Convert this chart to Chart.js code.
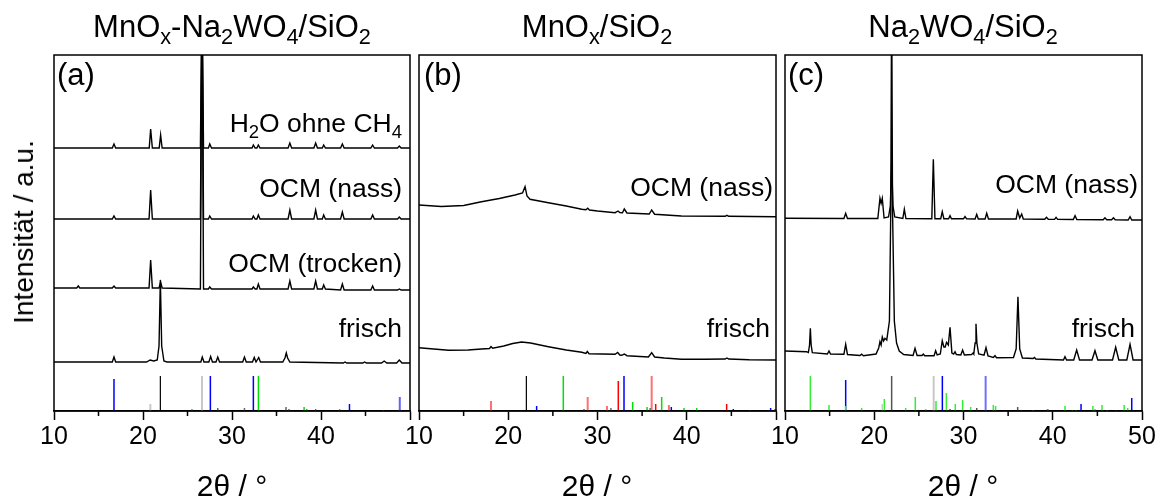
<!DOCTYPE html>
<html><head><meta charset="utf-8">
<script src="https://cdn.jsdelivr.net/npm/chart.js@4/dist/chart.umd.min.js"></script>
<style>
html,body{margin:0;padding:0;background:#fff;}
#wrap{position:relative;width:1160px;height:501px;overflow:hidden;font-family:"Liberation Sans",Arial,sans-serif;color:#000;}
canvas{position:absolute;top:0;}
.t{position:absolute;white-space:nowrap;line-height:1;}
.t sub{font-size:0.7em;vertical-align:-0.32em;line-height:0;}
.c{transform:translateX(-50%);}
</style></head>
<body>
<div id="wrap">
<canvas id="ca"></canvas>
<canvas id="cb"></canvas>
<canvas id="cc"></canvas>

<div class="t c" style="left:232px;top:11px;font-size:31px;">MnO<sub>x</sub>-Na<sub>2</sub>WO<sub>4</sub>/SiO<sub>2</sub></div>
<div class="t c" style="left:597px;top:11px;font-size:31px;">MnO<sub>x</sub>/SiO<sub>2</sub></div>
<div class="t c" style="left:963px;top:11px;font-size:31px;">Na<sub>2</sub>WO<sub>4</sub>/SiO<sub>2</sub></div>

<div class="t" style="left:57px;top:59px;font-size:31px;">(a)</div>
<div class="t" style="left:424px;top:59px;font-size:31px;">(b)</div>
<div class="t" style="left:788px;top:59px;font-size:31px;">(c)</div>

<div class="t" style="right:758px;top:110px;font-size:26.5px;">H<sub>2</sub>O ohne CH<sub>4</sub></div>
<div class="t" style="right:758px;top:175px;font-size:26.5px;">OCM (nass)</div>
<div class="t" style="right:758px;top:250px;font-size:26.5px;">OCM (trocken)</div>
<div class="t" style="right:758px;top:315px;font-size:26.5px;">frisch</div>

<div class="t" style="right:387px;top:174px;font-size:26.5px;">OCM (nass)</div>
<div class="t" style="right:390px;top:315px;font-size:26.5px;">frisch</div>

<div class="t" style="right:22px;top:171px;font-size:26.5px;">OCM (nass)</div>
<div class="t" style="right:25px;top:315px;font-size:26.5px;">frisch</div>

<div class="t c" style="left:232px;top:471px;font-size:30px;">2θ / °</div>
<div class="t c" style="left:597px;top:471px;font-size:30px;">2θ / °</div>
<div class="t c" style="left:963px;top:471px;font-size:30px;">2θ / °</div>

<div class="t" style="left:24px;top:232px;font-size:28px;transform:translate(-50%,-50%) rotate(-90deg);">Intensität / a.u.</div>
</div>

<script>
// ---------- axis ----------
const xMajorTicks = [10, 20, 30, 40, 50];
const xMinorTicks = [15, 25, 35, 45];

// ---------- panel (a): MnOx-Na2WO4/SiO2, [2theta, intensity a.u.] ----------
const aH2O = [[10,263],[16.55,263],[16.74,267],[16.93,263],[20.7,263],[20.86,282],[21.05,263],[21.82,263],[21.98,276],[22.15,263],[26.45,263],[26.63,420],[26.8,263],[27.35,263],[27.5,267],[27.7,263],[32.25,263],[32.4,266],[32.6,263],[32.8,263],[32.96,266],[33.15,263],[36.3,263],[36.5,268],[36.7,263],[39.2,263],[39.4,268],[39.6,263],[40.15,263],[40.3,266],[40.5,263],[42.2,263],[42.4,267],[42.6,263],[45.6,263],[45.8,266],[46.0,263],[48.6,263],[48.8,265],[49.0,263],[50,263]];
const aNass = [[10,192],[16.55,192],[16.74,195],[16.93,192],[20.68,192],[20.86,221],[21.05,192],[26.45,192],[26.63,420],[26.8,192],[27.35,192],[27.5,195],[27.7,192],[32.25,192],[32.4,195],[32.6,192],[32.8,192],[32.96,196],[33.15,192],[36.3,192],[36.5,201],[36.7,192],[39.2,192],[39.4,201],[39.6,192],[40.15,192],[40.3,196],[40.5,192],[42.2,192],[42.4,199],[42.6,192],[45.6,192],[45.8,196],[46.0,192],[48.6,192],[48.8,194],[49.0,192],[50,192]];
const aTrocken = [[10,123],[12.55,123],[12.73,125],[12.9,123],[16.55,123],[16.74,125],[16.93,123],[20.68,123],[20.86,151],[21.05,123],[21.8,123],[21.98,129],[22.15,123],[26.45,122],[26.63,420],[26.8,122],[27.35,122],[27.5,124],[27.7,122],[32.25,122],[32.4,124],[32.6,122],[32.8,122],[32.96,127],[33.15,122],[36.3,122],[36.5,130],[36.7,122],[39.2,122],[39.4,130],[39.6,122],[40.15,122],[40.3,126],[40.5,122],[42.2,121],[42.4,127],[42.6,121],[45.6,121],[45.8,125],[46.0,121],[48.6,121],[48.8,122],[49.0,121],[50,121]];
const aFrisch = [[10,49],[16.55,49],[16.74,54],[16.93,49],[20.4,49],[20.8,51],[21.2,50],[21.6,51],[21.8,65],[21.95,131],[22.1,65],[22.35,50],[22.7,49],[26.5,49],[26.66,54],[26.85,49],[27.4,49],[27.6,54.5],[27.8,49],[28.2,49],[28.4,54],[28.6,49],[31.2,49],[31.4,54],[31.6,49],[32.3,49],[32.5,53.5],[32.7,49],[32.8,49],[33.0,53.5],[33.2,49],[35.7,49],[35.95,53],[36.1,58],[36.25,53],[36.5,49],[42.5,48],[42.7,49],[42.9,48],[44.7,48],[44.9,49],[45.1,48],[46.8,48],[47.1,50],[47.4,48],[48.5,48],[48.8,51],[49.1,48],[50,48]];
// reference sticks (a): [2theta, relative height]
const aStickBlue = [[16.74,32],[27.57,35],[32.4,35],[43.2,7]];
const aStickLightBlue = [[48.85,14]];
const aStickBlack = [[21.95,35]];
const aStickLightGray = [[26.63,35],[20.83,7]];
const aStickGray = [[28.4,3],[31.4,3],[36.07,4],[36.4,2],[39.4,2],[47.0,1]];
const aStickGreen = [[25.5,2],[32.97,35],[38.1,4],[38.4,2],[42.1,2]];

// ---------- panel (b): MnOx/SiO2 ----------
const bNass = [[10,206],[12.5,204.5],[15,205.5],[17,209.3],[19,212.5],[20.76,216],[21.6,218],[21.88,224.3],[22.1,215],[22.44,211.7],[24.5,208.3],[26.5,205],[28.24,201.7],[28.7,201.2],[28.9,202.7],[29.1,201],[30,200],[31.97,198.3],[32.3,200],[32.5,198.5],[32.8,198.3],[33.0,202],[33.3,198],[35.8,197],[36.07,201],[36.4,196.8],[39.4,195],[44.3,194.7],[44.5,195.7],[44.7,194.7],[49.9,194.3],[50,194.3]];
const bFrisch = [[10,63.3],[13.3,60.7],[15.5,61],[17,62],[17.9,62.5],[18.07,64.5],[18.25,62.7],[19.5,65],[20.5,67.5],[21.5,69],[22.5,68],[24.5,64.3],[26.5,61],[28.24,58.7],[28.7,57.5],[28.86,59.5],[29.05,57.3],[30.5,57],[31.97,56.7],[32.26,58.5],[32.5,56],[32.7,55.7],[33.0,57],[33.3,55.3],[35.7,54],[36.07,58.3],[36.4,54],[37.5,53],[39.4,51.7],[42,51.7],[44.3,52],[44.5,53],[44.7,52],[47,51.3],[50,51]];
const bStickLightRed = [[18.07,10],[28.9,14],[31.06,5],[36.07,35],[38.0,6]];
const bStickRed = [[32.33,30],[36.52,7],[44.47,7],[49.9,2]];
const bStickBlack = [[22.03,35]];
const bStickBlue = [[23.18,5],[32.97,35],[38.27,4],[45.22,2],[49.4,3]];
const bStickGreen = [[26.17,35],[33.94,9],[35.55,4],[37.19,14],[39.69,3],[41.11,3]];
const bStickGray = [[28.49,2],[31.5,3],[35.9,3],[47.1,1]];

// ---------- panel (c): Na2WO4/SiO2 ----------
const cNass = [[10,192.7],[16.6,192.5],[16.8,197.7],[17.0,192.5],[20.4,192.5],[20.64,212.7],[20.77,207.7],[20.9,212.7],[21.1,193],[21.6,194],[21.8,205],[21.95,248],[22.1,205],[22.3,194],[23.2,192.5],[23.37,201.7],[23.55,192.5],[26.45,192.3],[26.62,251.7],[26.8,192.3],[27.45,192.3],[27.62,199.3],[27.8,192.3],[28.33,192.3],[28.49,195.3],[28.65,192.3],[30.0,192.2],[30.17,194.5],[30.35,192.2],[31.3,192],[31.48,196.7],[31.66,192],[32.42,192],[32.6,197.7],[32.8,192],[35.9,192],[36.07,200],[36.3,193],[36.52,197],[36.7,192],[39.1,191.7],[39.3,193.7],[39.5,191.7],[40.2,191.6],[40.37,193.6],[40.55,191.6],[42.3,191.5],[42.5,195.3],[42.7,191.5],[45.65,191.3],[45.85,193.3],[46.05,191.3],[46.6,191.2],[46.8,193.2],[47.0,191.2],[48.45,191],[48.66,194.3],[48.85,191],[50,191]];
const cFrisch = [[10,60],[12.4,59.3],[12.62,58.5],[12.75,66],[12.84,82.7],[12.93,66],[13.06,58.3],[14.75,57],[14.93,60],[15.1,57],[16.6,56.7],[16.8,66.7],[17.0,56.5],[18.4,55.5],[18.59,56.9],[18.78,55.3],[20.2,57],[20.5,63],[20.64,69.3],[20.77,66],[20.9,74],[21.05,70],[21.2,72.7],[21.4,71],[21.7,90],[21.85,200],[21.95,420],[22.05,200],[22.25,90],[22.5,68],[22.8,60],[23.3,56.5],[24.35,55.5],[24.57,62.7],[24.8,55.5],[25.35,55.5],[25.5,57],[25.65,55.3],[26.7,55.3],[26.88,60.3],[27.05,56],[27.4,57],[27.62,70.3],[27.8,64],[27.95,64],[28.1,68.7],[28.3,66],[28.49,83.7],[28.7,58],[28.9,57],[29.05,59.3],[29.2,56.5],[29.7,56],[29.9,61],[30.1,56],[30.9,56.5],[31.07,58],[31.15,57],[31.3,68],[31.4,87.3],[31.5,68],[31.7,57],[32.3,55.8],[32.52,63.3],[32.75,55],[33.35,53.5],[33.53,55.3],[33.7,53.3],[35.6,53.5],[35.9,62],[36.1,114.3],[36.3,62],[36.6,53],[37.8,52.5],[37.95,53.5],[38.1,52],[41.2,51],[41.37,54.3],[41.55,51],[42.35,51],[42.68,61],[43.0,51],[44.4,51],[44.73,60.3],[45.05,51],[46.7,51],[47.05,63.7],[47.4,51],[48.3,51],[48.66,66.7],[49.0,51],[50,51]];
const cStickGreen = [[12.84,35],[14.93,6],[16.8,5],[18.59,3],[21.13,12],[23.52,3],[24.6,14],[25.76,2],[26.92,10],[28.08,18],[29.08,7],[29.9,11],[30.8,4],[33.34,6],[33.6,5],[37.8,1],[41.37,5],[42.2,1],[42.6,1],[44.5,5],[44.73,2],[45.52,6],[46.1,1],[48.0,6],[48.4,3]];
const cStickPaleGreen = [[20.9,7]];
const cStickBlue = [[16.8,31],[27.63,35],[43.17,7],[48.85,13]];
const cStickLightBlue = [[32.48,35],[39.43,2]];
const cStickGray = [[21.95,35],[28.49,2],[31.48,3],[36.07,4],[36.5,1],[47.1,1]];
const cStickLightGray = [[26.66,35]];

// ---------- drawing ----------
const FONT = '"Liberation Sans", Arial, sans-serif';

function traceDs(pts){
  return {type:'line', data: pts.map(p=>({x:p[0], y:p[1]})), borderColor:'#000', borderWidth:1.4,
          pointRadius:0, tension:0, fill:false, spanGaps:false};
}
function stickDs(items, color, width){
  const data = [];
  items.forEach(s => { data.push({x:s[0], y:0}, {x:s[0], y:s[1]}, {x:s[0], y:null}); });
  return {type:'line', data, borderColor:color, borderWidth:width, pointRadius:0, tension:0,
          fill:false, spanGaps:false, borderCapStyle:'butt'};
}

const framePlugin = {
  id:'frame',
  afterDraw(chart){
    const {ctx, chartArea:a, scales:{x}} = chart;
    ctx.save();
    ctx.strokeStyle = '#000';
    ctx.lineWidth = 1.5;
    ctx.strokeRect(a.left, a.top, a.right - a.left, a.bottom - a.top);
    ctx.beginPath();
    xMinorTicks.forEach(v => { const px = x.getPixelForValue(v); ctx.moveTo(px, a.bottom); ctx.lineTo(px, a.bottom + 5); });
    ctx.stroke();
    ctx.restore();
  }
};

function makeChart(id, left, width, datasets, showLast){
  const cv = document.getElementById(id);
  cv.width = width; cv.height = 501;
  cv.style.left = left + 'px';
  cv.style.width = width + 'px'; cv.style.height = '501px';
  return new Chart(cv, {
    type:'line',
    data:{datasets},
    options:{
      responsive:false, animation:false, events:[], devicePixelRatio:1,
      layout:{padding:{left:20, right:width - 20 - 356 - (width===397?1:0), top:55, bottom:0}},
      plugins:{legend:{display:false}, tooltip:{enabled:false}},
      scales:{
        x:{type:'linear', min:10, max:50,
           afterBuildTicks: s => { s.ticks = xMajorTicks.map(v => ({value:v})); },
           afterFit: s => { s.height = 90; },
           ticks:{font:{family:FONT, size:25}, color:'#000', padding:2, maxRotation:0, autoSkip:false,
                  callback: v => (v === 50 && !showLast) ? '' : String(v)},
           grid:{drawOnChartArea:false, drawTicks:true, tickLength:9, tickWidth:1.5, tickColor:'#000', color:'#000'},
           border:{display:true, color:'#000', width:1.5}},
        y:{display:false, min:0, max:356}
      }
    },
    plugins:[framePlugin]
  });
}

makeChart('ca', 34, 396, [
  traceDs(aH2O), traceDs(aNass), traceDs(aTrocken), traceDs(aFrisch),
  stickDs(aStickLightGray, '#c8c8c8', 2), stickDs(aStickGray, '#666', 1.5),
  stickDs(aStickGreen, '#00e000', 1.5), stickDs(aStickBlue, '#0000ff', 1.5),
  stickDs(aStickLightBlue, '#6060ff', 2), stickDs(aStickBlack, '#000', 1.2)
], false);

makeChart('cb', 399, 397, [
  traceDs(bNass), traceDs(bFrisch),
  stickDs(bStickGray, '#666', 1.5), stickDs(bStickLightRed, '#ff7070', 2),
  stickDs(bStickRed, '#ff0000', 1.5), stickDs(bStickGreen, '#00e000', 1.5),
  stickDs(bStickBlue, '#0000ff', 1.5), stickDs(bStickBlack, '#000', 1.2)
], false);

makeChart('cc', 765, 397, [
  traceDs(cNass), traceDs(cFrisch),
  stickDs(cStickLightGray, '#c8c8c8', 2), stickDs(cStickPaleGreen, '#b0d8b0', 1.5),
  stickDs(cStickGreen, '#33ee33', 1.5), stickDs(cStickBlue, '#0000ff', 1.5),
  stickDs(cStickLightBlue, '#7070ff', 2), stickDs(cStickGray, '#555', 1.5)
], true);
</script>
</body></html>
